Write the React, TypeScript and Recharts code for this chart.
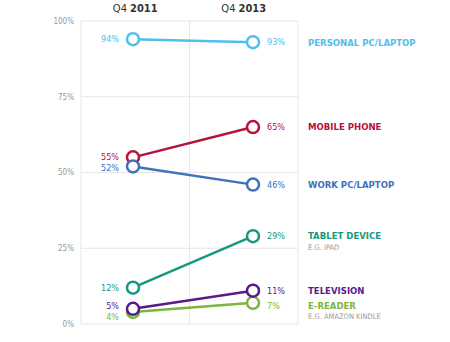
import React from 'react';
import { LineChart, Line, XAxis, YAxis, CartesianGrid, LabelList } from 'recharts';

const periods = ['Q4 2011', 'Q4 2013'];
const personalPc = [94, 93];
const mobilePhone = [55, 65];
const workPc = [52, 46];
const tabletDevice = [12, 29];
const television = [5, 11];
const eReader = [4, 7];
const yTicks = [0, 25, 50, 75, 100];

const seriesNames: Record<string, string> = {
  eReader: 'E-READER',
  television: 'TELEVISION',
  tabletDevice: 'TABLET DEVICE',
  mobilePhone: 'MOBILE PHONE',
  workPc: 'WORK PC/LAPTOP',
  personalPc: 'PERSONAL PC/LAPTOP',
};
const seriesSubs: Record<string, string> = {
  eReader: 'E.G. AMAZON KINDLE',
  tabletDevice: 'E.G. IPAD',
};
const seriesValues: Record<string, number[]> = {
  eReader,
  television,
  tabletDevice,
  mobilePhone,
  workPc,
  personalPc,
};
// drawing order (later on top)
const seriesOrder = ['eReader', 'television', 'tabletDevice', 'mobilePhone', 'workPc', 'personalPc'];

// styles
const colors: Record<string, string> = {
  eReader: '#7ab640',
  television: '#5a1a8a',
  tabletDevice: '#17997f',
  mobilePhone: '#b5123c',
  workPc: '#3e72ba',
  personalPc: '#4ec0ea',
};
const labelNudge: Record<string, [number, number]> = {
  eReader: [5, 3],
  television: [-3, 0],
  mobilePhone: [-1, 0],
  workPc: [1, 0],
};

const FONT = "'DejaVu Sans Condensed', 'Liberation Sans Narrow', sans-serif";

const data = periods.map((period, i) => {
  const row: Record<string, string | number> = { period };
  seriesOrder.forEach((k) => {
    row[k] = seriesValues[k][i];
  });
  return row;
});

const HeaderTick = (props: any) => {
  const { x, y, index } = props;
  const label = periods[index] || '';
  const [q, yr] = label.split(' ');
  return (
    <text x={x} y={y} textAnchor="middle" fontFamily={FONT} fontSize={11} fill="#333">
      <tspan>{q} </tspan>
      <tspan fontWeight="bold">{yr}</tspan>
    </text>
  );
};

const makeLabel = (key: string) => (props: any) => {
  const { x, y, value, index } = props;
  const color = colors[key];
  const nudge = labelNudge[key] || [0, 0];
  if (index === 0) {
    return (
      <text x={x - 14} y={y + nudge[0]} dy="0.35em" textAnchor="end" fontFamily={FONT} fontSize={9} fill={color}>
        {value}%
      </text>
    );
  }
  const sub = seriesSubs[key];
  return (
    <g>
      <text x={x + 14} y={y + nudge[1]} dy="0.35em" textAnchor="start" fontFamily={FONT} fontSize={9} fill={color}>
        {value}%
      </text>
      <text x={x + 55} y={y + nudge[1]} dy="0.35em" textAnchor="start" fontFamily={FONT} fontSize={9.5} fontWeight="bold" fill={color}>
        {seriesNames[key]}
      </text>
      {sub ? (
        <text x={x + 55} y={y + nudge[1] + 11} dy="0.35em" textAnchor="start" fontFamily={FONT} fontSize={7.5} fill="#9a9a9a">
          {sub}
        </text>
      ) : null}
    </g>
  );
};

export default function App() {
  return (
    <div style={{ position: 'absolute', left: 0, top: 0, width: 450, height: 342, background: '#fff' }}>
      <LineChart width={450} height={342} data={data} margin={{ top: 0, right: 152, bottom: 18, left: 0 }}>
        <XAxis dataKey="period" type="category" hide padding={{ left: 52, right: 45 }} />
        <XAxis xAxisId="grid" type="number" domain={[0, 1]} ticks={[0, 0.5, 1]} allowDataOverflow hide />
        <XAxis
          xAxisId="head"
          orientation="top"
          type="number"
          domain={[0, 1]}
          ticks={[0.25, 0.75]}
          allowDataOverflow
          height={21}
          axisLine={false}
          tickLine={false}
          tickSize={0}
          tickMargin={9}
          tick={HeaderTick}
        />
        <YAxis
          type="number"
          domain={[0, 100]}
          ticks={yTicks}
          width={81}
          axisLine={false}
          tickLine={false}
          tickSize={0}
          tickMargin={7}
          tickFormatter={(v: number) => `${v}%`}
          tick={{ fontSize: 8, fill: '#999', fontFamily: FONT }}
        />
        <CartesianGrid xAxisId="grid" stroke="#e6e6e6" strokeWidth={1} />
        {seriesOrder.map((k) => (
          <Line
            key={k}
            dataKey={k}
            stroke={colors[k]}
            strokeWidth={2.5}
            dot={{ r: 6, fill: '#fff', stroke: colors[k], strokeWidth: 2.5 }}
            activeDot={false}
            isAnimationActive={false}
          >
            <LabelList dataKey={k} content={makeLabel(k)} />
          </Line>
        ))}
      </LineChart>
    </div>
  );
}
